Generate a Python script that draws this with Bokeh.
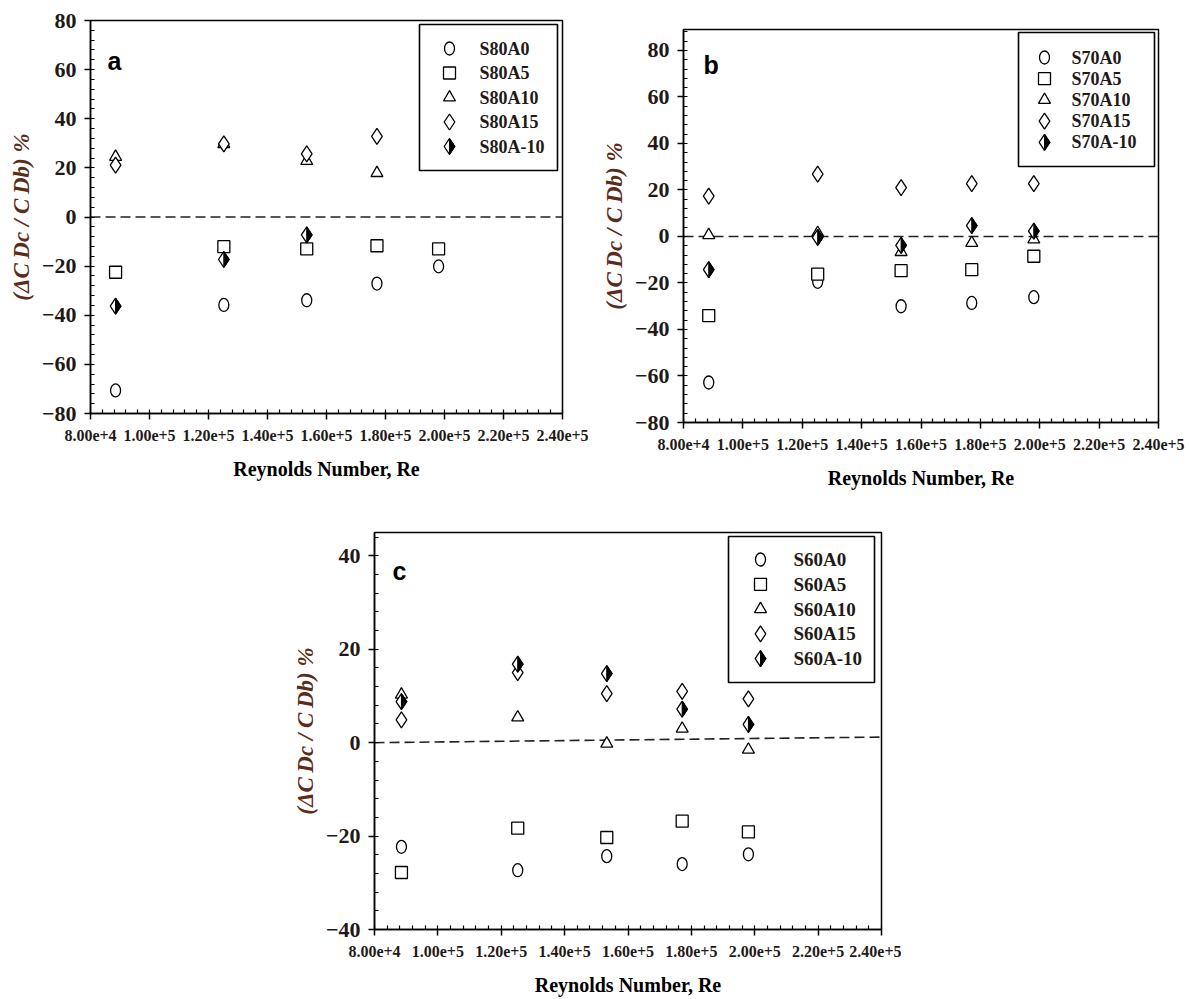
from bokeh.plotting import figure
from bokeh.layouts import column, row
from bokeh.models import Range1d, FixedTicker, Spacer
from bokeh.embed import file_html
from bokeh.resources import INLINE
from bokeh.core.properties import value

# ---------------- data ----------------
x_ticks = [80000, 100000, 120000, 140000, 160000, 180000, 200000, 220000, 240000]
x_tick_labels = ["8.00e+4", "1.00e+5", "1.20e+5", "1.40e+5", "1.60e+5",
                 "1.80e+5", "2.00e+5", "2.20e+5", "2.40e+5"]
re_values = [88500, 125200, 153300, 177100, 198000]

# panel a (S80)
a_names = ["S80A0", "S80A5", "S80A10", "S80A15", "S80A-10"]
a_A0 = [-70.6, -35.8, -33.9, -27.1, -20.1]
a_A5 = [-22.5, -12.1, -13.0, -11.7, -13.0]
a_A10 = [24.5, 29.7, 22.8, 17.9]
a_A15 = [21.1, 29.8, 25.7, 32.8]
a_Am10 = [-36.3, -17.3, -7.3]
a_yticks = [-80, -60, -40, -20, 0, 20, 40, 60, 80]
a_ref_x = [80000, 240000]
a_ref_y = [0, 0]

# panel b (S70)
b_names = ["S70A0", "S70A5", "S70A10", "S70A15", "S70A-10"]
b_A0 = [-62.8, -19.5, -30.0, -28.6, -26.1]
b_A5 = [-34.0, -16.2, -14.7, -14.3, -8.5]
b_A10 = [0.6, 1.5, -6.7, -2.8, -1.3]
b_A15 = [17.3, 26.8, 21.0, 22.7, 22.7]
b_Am10 = [-14.3, -0.4, -3.8, 4.7, 2.3]
b_yticks = [-80, -60, -40, -20, 0, 20, 40, 60, 80]
b_ref_x = [80000, 240000]
b_ref_y = [0, 0]

# panel c (S60)
c_names = ["S60A0", "S60A5", "S60A10", "S60A15", "S60A-10"]
c_A0 = [-22.3, -27.3, -24.3, -26.0, -23.9]
c_A5 = [-27.8, -18.3, -20.3, -16.8, -19.1]
c_A10 = [10.3, 5.4, -0.2, 3.0, -1.5]
c_A15 = [4.9, 15.0, 10.5, 11.0, 9.4]
c_Am10 = [8.8, 16.8, 14.8, 7.2, 3.9]
c_yticks = [-40, -20, 0, 20, 40]
c_ref_x = [80000, 240000]
c_ref_y = [0, 1.2]

x_label = "Reynolds Number, Re"
y_label = "(\u0394C\u2009Dc / C\u2009Db) %"

SERIF = value("Liberation Serif")
SANS = value("Liberation Sans")
TXT = "#1f1a17"
YLAB = "#5b2c1a"
DIAM = 16  # diamond marker size (px)


def make_panel(letter, names, series, yr, yticks, ref_x, ref_y, fw, fh,
               borders, legend_geo, letter_pos, tick_size):
    bl, br, bt, bb = borders
    p = figure(frame_width=fw, frame_height=fh, min_border_left=bl,
               min_border_right=br, min_border_top=bt, min_border_bottom=bb,
               x_range=Range1d(80000, 240000), y_range=Range1d(*yr),
               output_backend="svg", toolbar_location=None, title=None)
    p.extra_x_ranges = {"px": Range1d(0, fw)}
    p.extra_y_ranges = {"py": Range1d(0, fh)}
    p.grid.visible = False
    p.outline_line_color = "black"
    p.outline_line_width = 1.5
    p.background_fill_color = "white"
    p.border_fill_color = "white"

    xa = p.xaxis[0]
    xa.ticker = FixedTicker(ticks=x_ticks,
                            minor_ticks=[80000 + 4000 * i for i in range(41)])
    xa.major_label_overrides = {t: l for t, l in zip(x_ticks, x_tick_labels)}
    xa.axis_label = x_label
    ya = p.yaxis[0]
    step = yticks[1] - yticks[0]
    ya.ticker = FixedTicker(ticks=yticks,
                            minor_ticks=[yticks[0] + step / 5 * i
                                         for i in range(int((yr[1] - yticks[0]) / (step / 5)) + 1)])
    ya.axis_label = y_label
    for ax in (xa, ya):
        ax.axis_line_width = 1.5
        ax.axis_line_color = "black"
        ax.major_tick_line_width = 1.5
        ax.minor_tick_line_width = 1.2
        ax.major_tick_out = 6
        ax.major_tick_in = 0
        ax.minor_tick_in = 4
        ax.minor_tick_out = 0
        ax.major_label_text_font = "Liberation Serif"
        ax.major_label_text_font_style = "bold"
        ax.major_label_text_color = TXT
        ax.axis_label_text_font = "Liberation Serif"
    xa.major_label_text_font_size = "16px"
    ya.major_label_text_font_size = tick_size
    xa.major_label_standoff = 10
    ya.major_label_standoff = 8
    xa.axis_label_text_font_size = "20px"
    xa.axis_label_text_font_style = "bold"
    xa.axis_label_text_color = "black"
    xa.axis_label_standoff = 14
    ya.axis_label_text_font_size = "23px"
    ya.axis_label_text_font_style = "bold italic"
    ya.axis_label_text_color = YLAB
    ya.axis_label_standoff = 5

    # dashed reference line
    p.line(ref_x, ref_y, line_dash="10 5", line_color="#222222", line_width=1.6)

    xspan = 240000 - 80000
    yspan = yr[1] - yr[0]
    hw = DIAM / 2 / 1.5 * xspan / fw
    hh = DIAM / 2 * yspan / fh

    s0, s5, s10, s15, sm10 = series
    lw = 1.3
    p.ellipse(re_values[:len(s0)], s0, width=10, height=13, width_units="screen",
              height_units="screen", fill_color="white", line_color="black", line_width=lw)
    p.scatter(re_values[:len(s5)], s5, marker="square", size=12,
              fill_color="white", line_color="black", line_width=lw)
    p.scatter(re_values[:len(s10)], s10, marker="triangle", size=12,
              fill_color="white", line_color="black", line_width=lw)
    p.scatter(re_values[:len(s15)], s15, marker="diamond", size=DIAM,
              fill_color="white", line_color="black", line_width=lw)
    hx = re_values[:len(sm10)]
    p.scatter(hx, sm10, marker="diamond", size=DIAM,
              fill_color="white", line_color="black", line_width=lw)
    p.patches([[x, x + hw, x] for x in hx],
              [[y + hh, y, y - hh] for y in sm10],
              fill_color="black", line_color="black", line_width=1)

    # legend drawn in frame pixel coordinates
    lx0, lx1, ly0, ly1, mx, tx, r0, dr, lsize = legend_geo
    p.quad(left=[lx0], right=[lx1], top=[fh - ly0], bottom=[fh - ly1],
           fill_color="white", line_color="black", line_width=1.6,
           x_range_name="px", y_range_name="py")
    rows = [fh - (r0 + dr * i) for i in range(5)]
    p.ellipse([mx], [rows[0]], width=10, height=13, width_units="screen",
              height_units="screen", fill_color="white", line_color="black",
              line_width=lw, x_range_name="px", y_range_name="py")
    p.scatter([mx], [rows[1]], marker="square", size=12, fill_color="white",
              line_color="black", line_width=lw, x_range_name="px", y_range_name="py")
    p.scatter([mx], [rows[2]], marker="triangle", size=12, fill_color="white",
              line_color="black", line_width=lw, x_range_name="px", y_range_name="py")
    p.scatter([mx, mx], [rows[3], rows[4]], marker="diamond", size=DIAM,
              fill_color="white", line_color="black", line_width=lw,
              x_range_name="px", y_range_name="py")
    p.patches([[mx, mx + DIAM / 3, mx]], [[rows[4] + DIAM / 2, rows[4], rows[4] - DIAM / 2]],
              fill_color="black", line_color="black", line_width=1,
              x_range_name="px", y_range_name="py")
    p.text([tx] * 5, rows, text=names, text_font=SERIF, text_font_style="bold",
           text_font_size=lsize, text_color=TXT, text_baseline="middle",
           text_align="left", x_range_name="px", y_range_name="py")

    # panel letter
    p.text([letter_pos[0]], [fh - letter_pos[1]], text=[letter], text_font=SANS,
           text_font_style="bold", text_font_size="25px", text_color="black",
           text_baseline="alphabetic", text_align="left",
           x_range_name="px", y_range_name="py")
    return p


pa = make_panel("a", a_names, [a_A0, a_A5, a_A10, a_A15, a_Am10], (-80, 80), a_yticks,
                a_ref_x, a_ref_y, 472, 393, (90, 31, 20, 89),
                (329, 467, 4, 150, 359, 389, 28, 24.5, "18px"), (17, 40), "22px")
pb = make_panel("b", b_names, [b_A0, b_A5, b_A10, b_A15, b_Am10], (-80, 89), b_yticks,
                b_ref_x, b_ref_y, 475, 393, (90, 31, 29, 80),
                (335, 471, 3, 137, 361, 388, 28, 21.2, "18px"), (20, 35), "22px")
pc = make_panel("c", c_names, [c_A0, c_A5, c_A10, c_A15, c_Am10], (-40, 45), c_yticks,
                c_ref_x, c_ref_y, 507, 397, (90, 20, 30, 70),
                (354, 500, 4, 150, 386, 419, 27, 24.8, "19px"), (18, 38), "22px")

layout = column(row(column(pa), column(pb)), row(Spacer(width=284, height=497), pc))
open("out.html", "w").write(file_html(layout, INLINE))
